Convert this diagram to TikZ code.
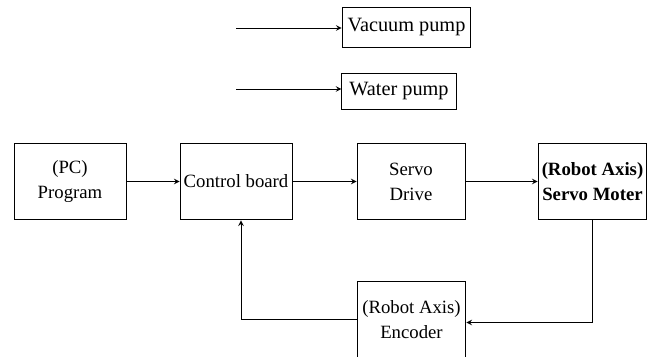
\documentclass[tikz,border=0pt]{standalone}
\usepackage{fontspec}
\setmainfont{Liberation Serif}
\usetikzlibrary{shapes,arrows,positioning,calc}

\begin{document}
\begin{tikzpicture}[
    x=0.0225cm, y=-0.0225cm,
    block/.style={rectangle, draw, line width=0.6pt, minimum height=1.73cm, align=center, inner sep=1pt, font=\fontsize{12}{16}\selectfont},
    pump/.style={rectangle, draw, line width=0.6pt, align=center, inner sep=1pt, font=\fontsize{13}{15}\selectfont},
    arrow/.style={->, >=stealth, line width=0.6pt}
]
\useasboundingbox (0,0) rectangle (655,356);

\node[pump, minimum width=2.9cm, minimum height=0.88cm] (vac) at (406.5,27.5) {Vacuum pump};
\node[pump, minimum width=2.57cm, minimum height=0.83cm] (water) at (399,91.5) {Water pump};
\coordinate (vacin) at (236,28);
\coordinate (waterin) at (236,89);

\node[block, minimum width=2.52cm] (prog) at (70,181.5) {(PC)\\Program};
\node[block, minimum width=2.52cm] (ctrl) at (236,181.5) {Control board};
\node[block, minimum width=2.43cm] (drive) at (411,181.5) {Servo\\Drive};
\node[block, minimum width=2.45cm, font=\fontsize{12}{16}\selectfont\bfseries] (motor) at (592.5,181.5) {(Robot Axis)\\Servo Moter};
\node[block, minimum width=2.45cm] (enc) at (411.5,319.5) {(Robot Axis)\\Encoder};

\draw[arrow] (vacin) -- (vac.west |- vacin);
\draw[arrow] (waterin) -- (water.west |- waterin);

\draw[arrow] (prog) -- (ctrl);
\draw[arrow] (ctrl) -- (drive);
\draw[arrow] (drive) -- (motor);
\draw[arrow] (motor.south) |- ($(enc.east)+(0,3)$);
\draw[arrow] (enc.west) -| ($(ctrl.south)+(5,0)$);
\end{tikzpicture}
\end{document}
